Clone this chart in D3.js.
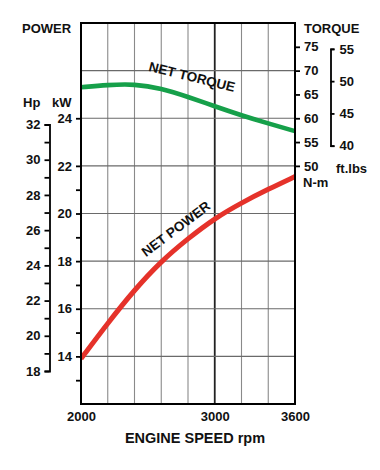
<!DOCTYPE html>
<html><head><meta charset="utf-8">
<script src="https://cdn.jsdelivr.net/npm/d3@7"></script>
<style>
body{margin:0;background:#fff;}
text{font-family:"Liberation Sans",Arial,Helvetica,sans-serif;font-weight:bold;fill:#111;}
</style></head>
<body><svg id="c" width="380" height="470"></svg>
<script>
const rpm = [2000,2200,2400,2600,2800,3000,3200,3400,3600];
const powerKW = [13.9,15.4,16.8,18.0,18.95,19.8,20.45,21.02,21.55];
const torqueNm = [66.5,67.0,67.2,66.3,64.5,62.5,60.6,58.9,57.3];
const xTicks = [2000,3000,3600];
const kwTicks = [14,16,18,20,22,24];
const kwMinor = [13,15,17,19,21];
const hpTicks = [18,19,20,21,22,23,24,25,26,27,28,29,30,31,32];
const nmTicks = [50,55,60,65,70,75];
const ftTicks = [40,45,50,55];
const gridX = [2200,2400,2600,2800,3000,3200,3400];
const gridKW = [14,16,18,20,22,24,26];

const svg = d3.select("#c");
const L=81,R=295,T=23,B=404;
const x = d3.scaleLinear([2000,3600],[L,R]);
const yKW = d3.scaleLinear([12,28],[B,T]);
const yNm = d3.scaleLinear([0,80],[B,T]);
const yHp = d3.scaleLinear([18,32],[371,124.5]);
const yFt = d3.scaleLinear([40,55],[yNm(40*1.35582),yNm(55*1.35582)]);

// grid
svg.append("g").selectAll("line").data(gridX).join("line")
  .attr("x1",d=>x(d)).attr("x2",d=>x(d)).attr("y1",T).attr("y2",B)
  .attr("stroke",d=>d===3000?"#222":"#8a8a8a").attr("stroke-width",d=>d===3000?1.8:1.1);
svg.append("g").selectAll("line").data(gridKW).join("line")
  .attr("x1",L).attr("x2",R).attr("y1",d=>yKW(d)).attr("y2",d=>yKW(d))
  .attr("stroke","#6a6a6a").attr("stroke-width",1.1);

// curves
const line = d3.line().curve(d3.curveBasis);
svg.append("path").attr("d",line(rpm.map((r,i)=>[x(r),yNm(torqueNm[i])])))
  .attr("fill","none").attr("stroke","#16a04a").attr("stroke-width",4.6);
svg.append("path").attr("d",line(rpm.map((r,i)=>[x(r),yKW(powerKW[i])])))
  .attr("fill","none").attr("stroke","#e5322a").attr("stroke-width",5);

// frame
svg.append("rect").attr("x",L).attr("y",T).attr("width",R-L).attr("height",B-T)
  .attr("fill","none").attr("stroke","#000").attr("stroke-width",2);

function styleAxis(g){
  g.selectAll("path.domain").attr("stroke","#000").attr("stroke-width",1.8);
  g.selectAll(".tick line").attr("stroke","#000").attr("stroke-width",1.8);
  g.selectAll("text").attr("font-size",13).attr("font-family",null).attr("fill","#111");
}
// kW axis
const gkw = svg.append("g").attr("transform",`translate(${L},0)`)
  .call(d3.axisLeft(yKW).tickValues(kwTicks.concat(kwMinor)).tickSize(5).tickPadding(4)
  .tickFormat(d=>kwTicks.includes(d)?d:""));
styleAxis(gkw); gkw.select("path.domain").remove();
// Hp axis
const ghp = svg.append("g").attr("transform",`translate(49.5,0)`)
  .call(d3.axisLeft(yHp).tickValues(hpTicks).tickSize(5).tickSizeOuter(5).tickPadding(4)
  .tickFormat(d=>d%2===0?d:""));
styleAxis(ghp);
// N-m axis
const gnm = svg.append("g").attr("transform",`translate(${R},0)`)
  .call(d3.axisRight(yNm).tickValues(nmTicks).tickSize(5).tickPadding(4));
styleAxis(gnm); gnm.select("path.domain").remove();
// ft.lbs axis
const gft = svg.append("g").attr("transform",`translate(330.5,0)`)
  .call(d3.axisRight(yFt).tickValues(ftTicks).tickSize(4).tickSizeOuter(4).tickPadding(5));
styleAxis(gft);
// x axis labels
const gx = svg.append("g").attr("transform",`translate(0,${B})`)
  .call(d3.axisBottom(x).tickValues(xTicks).tickSize(0).tickPadding(8).tickFormat(d3.format("d")));
styleAxis(gx); gx.select("path.domain").remove();

// titles
svg.append("text").attr("x",22).attr("y",32.5).attr("font-size",13).text("POWER");
svg.append("text").attr("x",304).attr("y",32.5).attr("font-size",13).text("TORQUE");
svg.append("text").attr("x",23).attr("y",107).attr("font-size",13).text("Hp");
svg.append("text").attr("x",52).attr("y",107).attr("font-size",13).text("kW");
svg.append("text").attr("x",336).attr("y",173).attr("font-size",13).text("ft.lbs");
svg.append("text").attr("x",303).attr("y",187).attr("font-size",13).text("N-m");
svg.append("text").attr("x",195).attr("y",443).attr("font-size",14.5).attr("text-anchor","middle").text("ENGINE SPEED rpm");
svg.append("text").attr("transform","translate(192,77) rotate(14)").attr("font-size",13.5)
  .attr("text-anchor","middle").attr("dominant-baseline","central").text("NET TORQUE");
svg.append("text").attr("transform","translate(176,229) rotate(-37)").attr("font-size",13.5)
  .attr("text-anchor","middle").attr("dominant-baseline","central").text("NET POWER");
</script></body></html>
